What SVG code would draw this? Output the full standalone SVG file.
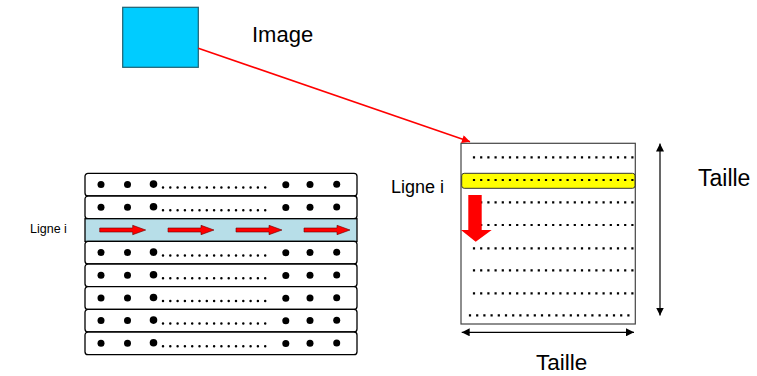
<svg xmlns="http://www.w3.org/2000/svg" width="757" height="376" viewBox="0 0 757 376">
<defs>
<style>
.t{font-family:"Liberation Sans",Arial,sans-serif;fill:#000}
.row{fill:#fff;stroke:#000;stroke-width:1.3}
.big{fill:#000}
.sd{stroke:#000;stroke-width:2.5;stroke-linecap:round;stroke-dasharray:0 7.3;fill:none}
.rd{stroke:#000;stroke-width:2.2;stroke-linecap:square;stroke-dasharray:0 7.2;fill:none}
.ra{fill:#f00;stroke:#600;stroke-width:0.6}
.blk{stroke:#000;stroke-width:1.2;fill:none}
</style>
<marker id="ah" viewBox="0 0 10 10" refX="10" refY="5" markerWidth="8" markerHeight="8" orient="auto-start-reverse" markerUnits="userSpaceOnUse"><path d="M0,0 L10,5 L0,10 z" fill="#000"/></marker>
<marker id="rh" viewBox="0 0 10 10" refX="10" refY="5" markerWidth="9" markerHeight="8" orient="auto" markerUnits="userSpaceOnUse"><path d="M0,0 L10,5 L0,10 z" fill="#f00"/></marker>
<g id="dotrow">
<rect class="row" x="85" y="0" width="272" height="22.7" rx="3"/>
<circle class="big" cx="101" cy="11.3" r="3.5"/>
<circle class="big" cx="127.5" cy="11.3" r="3.5"/>
<circle class="big" cx="153.5" cy="10.8" r="3.8"/>
<circle class="big" cx="285.8" cy="11.5" r="3.5"/>
<circle class="big" cx="310" cy="11.3" r="3.5"/>
<circle class="big" cx="336.7" cy="11" r="3.5"/>
<line class="sd" x1="163" y1="14.3" x2="266" y2="14.3"/>
</g>
<g id="rarrow">
<path class="ra" d="M0,-2 L33,-2 L33,-4.7 L46,0 L33,4.7 L33,2 L0,2 z"/>
</g>
</defs>

<g id="image-node">
<rect x="122.7" y="7.3" width="75.6" height="60" fill="#00ccff" stroke="#1f5f6f" stroke-width="1.2"/>
<text class="t" x="252" y="42" font-size="22">Image</text>
</g>

<g id="left-grid">
<text class="t" x="30" y="233" font-size="12.5">Ligne i</text>
<use href="#dotrow" y="173.3"/>
<use href="#dotrow" y="196"/>
<rect x="85" y="218.7" width="272" height="22.7" fill="#b7dee8" stroke="#000" stroke-width="1.3"/>
<use href="#rarrow" x="99.7" y="230"/>
<use href="#rarrow" x="168" y="230"/>
<use href="#rarrow" x="236" y="230"/>
<use href="#rarrow" x="304" y="230"/>
<use href="#dotrow" y="241.3"/>
<use href="#dotrow" y="264"/>
<use href="#dotrow" y="286.7"/>
<use href="#dotrow" y="309.3"/>
<use href="#dotrow" y="332"/>
</g>

<g id="right-grid">
<rect x="461" y="143.3" width="174.3" height="180.7" fill="#fff" stroke="#444" stroke-width="1.2"/>
<rect x="461.7" y="173.3" width="173.3" height="15" rx="2.5" fill="#ffff00" stroke="#333" stroke-width="1"/>
<line class="rd" x1="474" y1="157.3" x2="636" y2="157.3"/>
<line class="rd" x1="474" y1="180" x2="636" y2="180"/>
<line class="rd" x1="474" y1="202.3" x2="636" y2="202.3"/>
<line class="rd" x1="474" y1="225" x2="636" y2="225"/>
<line class="rd" x1="474" y1="248.3" x2="636" y2="248.3"/>
<line class="rd" x1="474" y1="270.3" x2="636" y2="270.3"/>
<line class="rd" x1="474" y1="293.3" x2="636" y2="293.3"/>
<line class="rd" x1="470" y1="315.3" x2="632" y2="315.3"/>
<path d="M468.3,195 L481.7,195 L481.7,230 L491.7,230 L475.7,241.7 L461,230 L468.3,230 z" fill="#f00"/>
<text class="t" x="391" y="193.3" font-size="18">Ligne i</text>
</g>

<g id="labels">
<text class="t" x="698" y="186" font-size="23">Taille</text>
<text class="t" x="536" y="370" font-size="22.5">Taille</text>
</g>

<g id="connectors">
<line x1="198.3" y1="48.3" x2="470" y2="141.7" stroke="#f00" stroke-width="1.6" marker-end="url(#rh)"/>
<line class="blk" x1="660" y1="143.5" x2="660" y2="315.5" marker-start="url(#ah)" marker-end="url(#ah)"/>
<line class="blk" x1="461.7" y1="332.3" x2="634" y2="332.3" marker-start="url(#ah)" marker-end="url(#ah)"/>
</g>
</svg>
